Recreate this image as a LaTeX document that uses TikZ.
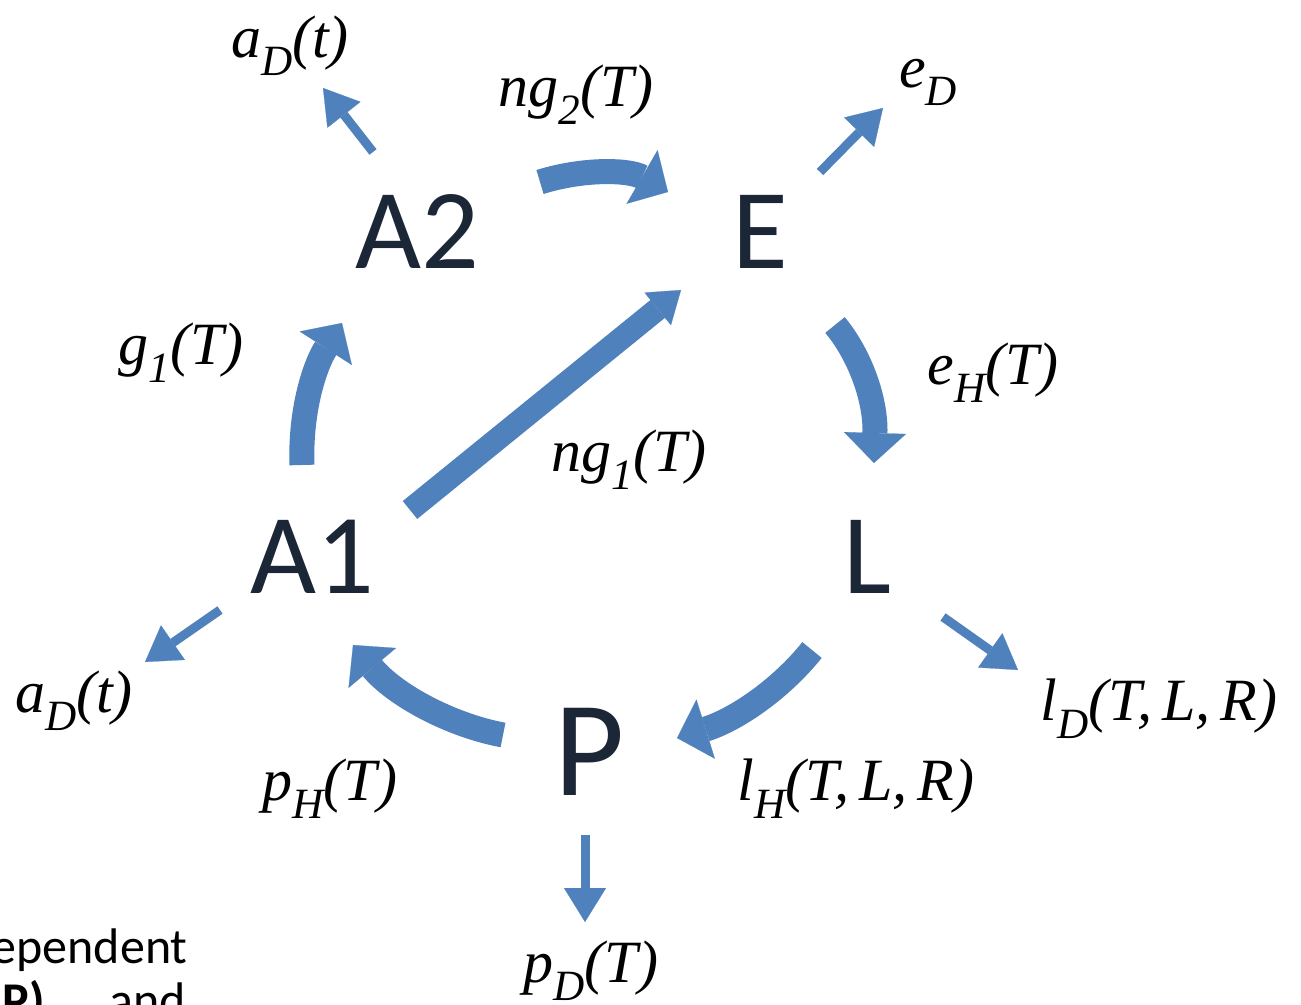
\documentclass[tikz,border=0pt]{standalone}
\usepackage{fontspec}
\setmainfont{Liberation Serif}
\newfontfamily\calfont{Carlito}
\usetikzlibrary{arrows.meta}
\definecolor{flow}{HTML}{4F81BD}
\definecolor{ink}{HTML}{1B2637}
\newcommand\lsub[1]{\raisebox{-0.3em}{\scalebox{0.72}{#1}}}
\tikzset{
  stage/.style={font=\calfont\fontsize{57pt}{60pt}\selectfont, text=ink, inner sep=0pt},
  rate/.style={font=\itshape\fontsize{30pt}{32pt}\selectfont, inner sep=0pt, anchor=base},
  bigflow/.style={draw=flow, line width=12.5pt, -{Triangle[length=15pt,width=31pt,line width=0.1pt]}},
  midflow/.style={draw=flow, line width=11.5pt, -{Triangle[length=15pt,width=21pt,line width=0.1pt]}},
  outflow/.style={draw=flow, line width=4.5pt, -{Triangle[length=17pt,width=21pt,line width=0.1pt]}},
  body/.style={font=\calfont\fontsize{25pt}{27pt}\selectfont, inner sep=0pt},
}
\begin{document}
\begin{tikzpicture}[x=0.5pt,y=-0.5pt]
\path[use as bounding box, fill=white] (0,0) rectangle (1301,1005);
\clip (0,0) rectangle (1301,1005);

% stages
\node[stage] (A2) at (417,232) {A2};
\node[stage] (E)  at (760,232) {E};
\node[stage] (A1) at (312,557) {A1};
\node[stage] (L)  at (867,557) {L};
\node[stage, font=\calfont\fontsize{68pt}{70pt}\selectfont] (P) at (590,752) {P};

% coordinates of flow ends
\coordinate (a2e1) at (540,182);  \coordinate (a2e2) at (668,192);
\coordinate (el1)  at (835,325);  \coordinate (el2)  at (874,463);
\coordinate (lp1)  at (812,650);  \coordinate (lp2)  at (677,738);
\coordinate (pa1)  at (503,735);  \coordinate (pa2)  at (353,645);
\coordinate (aa1)  at (302,465);  \coordinate (aa2)  at (342,323);
\coordinate (ae1)  at (410,510);  \coordinate (ae2)  at (681,290);

\coordinate (oA2a) at (373,152);  \coordinate (oA2b) at (323,88);
\coordinate (oEa)  at (820,172);  \coordinate (oEb)  at (883,108);
\coordinate (oA1a) at (220,610);  \coordinate (oA1b) at (145,662);
\coordinate (oLa)  at (943,617);  \coordinate (oLb)  at (1018,670);
\coordinate (oPa)  at (585,835);  \coordinate (oPb)  at (585,922);

% main flows
\draw[bigflow] (a2e1) .. controls (585,168) and (630,170) .. (a2e2);
\draw[bigflow] (el1) .. controls (860,355) and (876,400) .. (el2);
\draw[bigflow] (lp1) .. controls (780,690) and (735,720) .. (lp2);
\draw[bigflow] (pa1) .. controls (450,725) and (395,695) .. (pa2);
\draw[bigflow] (aa1) .. controls (300,410) and (315,365) .. (aa2);
\draw[midflow] (ae1) -- (ae2);

% outflows
\draw[outflow] (oA2a) -- (oA2b);
\draw[outflow] (oEa) -- (oEb);
\draw[outflow] (oA1a) -- (oA1b);
\draw[outflow] (oLa) -- (oLb);
\draw[outflow] (oPa) -- (oPb);

% rate labels
\node[rate] (r1)  at (290,58)  {a\lsub{D}(t)};
\node[rate] (r2)  at (576,107) {ng\lsub{2}(T)};
\node[rate] (r3)  at (928,88)  {e\lsub{D}};
\node[rate] (r4)  at (181,365) {g\lsub{1}(T)};
\node[rate] (r5)  at (993,385) {e\lsub{H}(T)};
\node[rate] (r6)  at (629,472) {ng\lsub{1}(T)};
\node[rate] (r7)  at (74,712)  {a\lsub{D}(t)};
\node[rate] (r8)  at (1159,720) {l\lsub{D}(T,\,L,\,R)};
\node[rate] (r9)  at (330,800) {p\lsub{H}(T)};
\node[rate] (r10) at (856,800) {l\lsub{H}(T,\,L,\,R)};
\node[rate] (r11) at (591,982) {p\lsub{D}(T)};

% body text, cut off at the picture's edge as in the reference
\node[body, anchor=base east] (t1) at (188,963) {dependent};
\node[body, anchor=base west] (t2) at (2,1017) {\textbf{P)}};
\node[body, anchor=base east] (t3) at (186,1017) {and};
\end{tikzpicture}
\end{document}
